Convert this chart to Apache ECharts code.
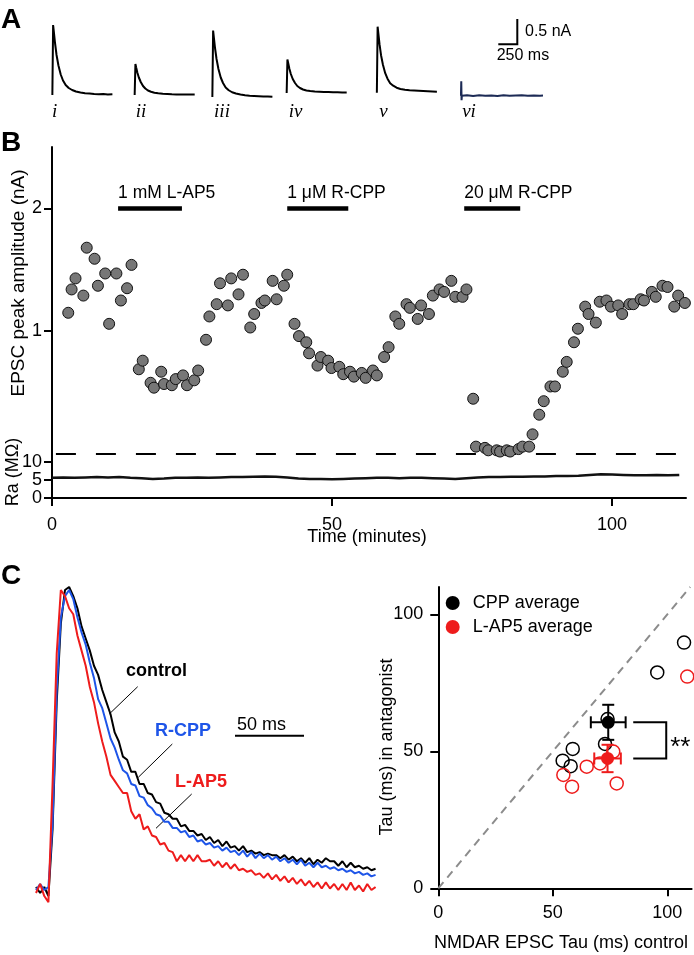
<!DOCTYPE html>
<html><head><meta charset="utf-8">
<script src="https://cdn.jsdelivr.net/npm/echarts@6/dist/echarts.min.js"></script>
<style>html,body{margin:0;padding:0;background:#fff}#c{width:694px;height:955px}</style>
</head><body><div id="c"></div>
<script>
// ---------- Panel A: example EPSC traces (time ms, current nA) ----------
const traceTime = [0,10,20,35,55,80,110,140,175,215,260,310,370,430,490,550,610,670,730,790];
const traceI   = [0,1.40,1.26,1.04,0.80,0.59,0.41,0.29,0.20,0.14,0.10,0.07,0.05,0.035,0.03,0.02,0.015,0.02,0.01,0.015];
const traceII  = [0,0.62,0.55,0.45,0.35,0.26,0.18,0.13,0.09,0.065,0.045,0.035,0.025,0.02,0.015,0.012,0.01,0.012,0.008,0.01];
const traceIII = [0,1.33,1.19,0.98,0.76,0.56,0.39,0.28,0.19,0.135,0.095,0.07,0.05,0.035,0.025,0.02,0.015,0.01,0.01,0.005];
const traceIV  = [0,0.67,0.60,0.49,0.38,0.28,0.20,0.14,0.10,0.07,0.05,0.04,0.03,0.025,0.02,0.02,0.015,0.015,0.01,0.01];
const traceV   = [0,1.32,1.18,0.97,0.75,0.56,0.39,0.28,0.19,0.14,0.10,0.075,0.06,0.05,0.045,0.04,0.035,0.03,0.025,0.02];
const traceVITime = [0,4,8,12,80,160,240,320,400,480,560,640,720,800,880,960,1040,1080];
const traceVI     = [0,0.29,-0.09,0,0.01,-0.005,0.01,0,0.005,-0.005,0.01,0,0.005,0.01,0,0.005,0,0.005];
const traceLabels = ['i','ii','iii','iv','v','vi'];

// ---------- Panel B: time course ----------
const timeB = [2.9,3.5,4.2,5.6,6.2,7.6,8.2,9.5,10.2,11.5,12.3,13.4,14.2,
  15.5,16.2,17.6,18.2,19.5,20.0,21.4,22.1,23.4,24.1,25.4,26.1,
  27.5,28.1,29.4,30.0,31.4,32.0,33.3,34.1,35.4,36.1,37.4,38.0,39.4,40.1,41.4,42.0,
  43.3,44.1,45.4,45.9,47.4,48.0,49.3,49.9,51.3,52.0,53.2,53.9,55.3,56.0,57.3,58.0,59.3,60.1,
  61.3,62.0,63.3,63.9,65.3,65.9,67.3,68.0,69.2,70.0,71.3,72.0,73.3,74.0,
  75.2,75.7,77.3,77.9,79.4,80.0,81.2,81.8,83.3,84.0,85.2,85.8,87.0,87.8,89.0,89.8,
  91.2,91.9,93.2,93.9,95.2,95.8,97.1,97.8,99.0,99.8,101.1,101.8,103.1,103.8,105.1,105.7,107.1,107.8,109.0,109.9,111.1,111.8,113.0];
const ampB = [1.15,1.34,1.43,1.29,1.68,1.59,1.37,1.47,1.06,1.47,1.25,1.35,1.54,
  0.69,0.76,0.58,0.54,0.67,0.57,0.56,0.61,0.64,0.56,0.60,0.68,
  0.93,1.12,1.22,1.39,1.21,1.43,1.30,1.46,1.03,1.14,1.23,1.25,1.41,1.26,1.37,1.46,
  1.06,0.96,0.91,0.82,0.72,0.79,0.76,0.70,0.71,0.65,0.67,0.63,0.66,0.62,0.68,0.64,0.79,0.87,
  1.12,1.06,1.22,1.19,1.10,1.21,1.14,1.29,1.34,1.32,1.41,1.28,1.28,1.34,
  0.45,0.06,0.05,0.03,0.03,0.02,0.03,0.02,0.04,0.06,0.06,0.16,0.32,0.43,0.55,0.55,
  0.67,0.75,0.91,1.02,1.20,1.14,1.07,1.24,1.25,1.20,1.21,1.14,1.22,1.22,1.26,1.25,1.32,1.28,1.37,1.36,1.20,1.29,1.23];
const raTime = [0,2,4,6,8,10,12,14,16,18,20,22,24,26,28,30,32,34,36,38,40,42,44,46,48,50,52,54,56,58,60,62,64,66,68,70,72,74,76,78,80,82,84,86,88,90,92,94,96,98,100,102,104,106,108,110,112];
const raVal  = [5.6,5.7,5.6,5.7,5.8,5.7,5.8,5.6,5.5,5.3,5.4,5.6,5.6,5.7,5.6,5.7,5.8,5.8,5.9,6.0,5.9,5.7,5.4,5.3,5.3,5.2,5.3,5.4,5.5,5.6,5.6,5.5,5.6,5.6,5.5,5.4,5.3,5.5,5.7,5.8,5.8,5.9,5.9,6.0,6.0,6.1,6.1,6.2,6.4,6.6,6.5,6.4,6.3,6.3,6.4,6.3,6.4];
const drugNames = ['1 mM L-AP5','1 μM R-CPP','20 μM R-CPP'];
const drugStart = [11.8, 42.0, 73.6];
const drugEnd   = [23.2, 52.9, 83.6];
const bTicksX = [0,50,100];
const bTicksY = [1,2];
const raTicks = [0,5,10];

// ---------- Panel C left: normalized averaged EPSCs ----------
const tC = [0,3,6,9,12,15,18,21,24,27,30,33,36,39,42,45,48,51,54,57,60,63,66,69,72,75,78,81,84,87,90,93,96,99,102,105,108,111,114,117,120,123,126,129,132,135,138,141,144,147,150,153,156,159,162,165,168,171,174,177,180,183,186,189,192,195,198,201,204,207,210,213,216,219,222,225,228,231,234,237,240,243,246];
const ctrlC = [0.01,-0.01,0.01,-0.02,0.20,0.62,0.88,0.99,1.00,0.97,
  0.93,0.87,0.83,0.79,0.74,0.71,0.66,0.62,0.58,0.52,
  0.49,0.44,0.43,0.39,0.39,0.35,0.35,0.32,0.315,0.29,
  0.285,0.255,0.25,0.235,0.235,0.21,0.215,0.195,0.195,0.18,
  0.185,0.165,0.175,0.155,0.165,0.145,0.16,0.14,0.145,0.13,
  0.145,0.125,0.13,0.12,0.125,0.115,0.12,0.115,0.115,0.105,
  0.115,0.10,0.11,0.095,0.105,0.09,0.105,0.085,0.10,0.09,
  0.105,0.095,0.095,0.08,0.095,0.075,0.09,0.075,0.08,0.07,
  0.075,0.065,0.07];
const cppC = [0.00,0.02,0.00,0.01,0.22,0.66,0.90,0.97,0.99,0.96,
  0.90,0.85,0.81,0.75,0.70,0.63,0.60,0.55,0.50,0.47,
  0.43,0.395,0.385,0.35,0.345,0.31,0.305,0.28,0.27,0.25,
  0.245,0.225,0.225,0.205,0.205,0.19,0.195,0.175,0.18,0.16,
  0.165,0.15,0.155,0.14,0.145,0.13,0.14,0.125,0.13,0.115,
  0.13,0.11,0.125,0.105,0.12,0.105,0.115,0.10,0.11,0.095,
  0.105,0.09,0.10,0.085,0.10,0.08,0.09,0.075,0.09,0.075,
  0.08,0.07,0.075,0.065,0.07,0.06,0.065,0.055,0.06,0.05,
  0.055,0.045,0.05];
const lap5C = [-0.01,0.02,-0.02,-0.04,0.35,0.78,0.99,0.97,0.93,0.91,
  0.84,0.79,0.74,0.67,0.62,0.55,0.49,0.44,0.38,0.36,
  0.34,0.32,0.32,0.26,0.235,0.25,0.20,0.21,0.18,0.175,
  0.15,0.155,0.13,0.125,0.095,0.115,0.095,0.115,0.095,0.115,
  0.095,0.095,0.10,0.08,0.095,0.075,0.09,0.07,0.085,0.065,
  0.07,0.06,0.065,0.05,0.055,0.04,0.055,0.035,0.05,0.03,
  0.045,0.025,0.04,0.02,0.035,0.015,0.03,0.01,0.025,0.005,
  0.025,0.005,0.02,0.0,0.02,0.0,0.025,0.0,0.015,-0.005,
  0.02,0.0,0.01];

// ---------- Panel C right: decay tau ----------
const cppCtrl = [107.3,95.6,73.9,72.8,58.7,54.3,57.8];
const cppAnt  = [89.7,78.8,61.8,52.7,50.9,46.6,44.6];
const lapCtrl = [108.7,76.4,70.6,64.8,58.4,54.6,77.9];
const lapAnt  = [77.3,49.9,45.6,44.4,37.1,41.4,38.3];
const avgNames = ['CPP average','L-AP5 average'];
const avgCtrl = [74.2,73.9];
const avgAnt  = [60.6,47.4];
const semCtrl = [7.6,5.8];
const semAnt  = [6.4,5.0];
const tauTicks = [0,50,100];

// ================= drawing =================
const FONT = "'Liberation Sans', Arial, Helvetica, sans-serif";
const SERIF = "'Liberation Serif', 'Times New Roman', serif";
const BLACK = '#000', RED = '#ee1c1c', BLUE = '#1e55e8', NAVY = '#1c2a55';
const chart = echarts.init(document.getElementById('c'), null, {renderer:'canvas', width:694, height:955});
const zip = (a,b) => a.map((v,i)=>[v,b[i]]);

const aLayout = [
  {left:51.6, top:20, width:60.8, xmax:790},
  {left:133.9, top:20, width:60.8, xmax:790},
  {left:211.6, top:22, width:60.8, xmax:790},
  {left:285.9, top:18, width:60.8, xmax:790},
  {left:376.1, top:17.7, width:60.8, xmax:790},
  {left:460.2, top:20.7, width:82.8, xmax:1080}
];
const grids = aLayout.map(g=>({left:g.left, top:g.top, width:g.width, height:80}));
grids.push({left:52, top:147, width:634, height:307});   // 6: B EPSC
grids.push({left:52, top:454, width:634, height:44});    // 7: B Ra
grids.push({left:36, top:571.85, width:339, height:363.6}); // 8: C left
grids.push({left:438.3, top:587, width:253.3, height:301.3}); // 9: C right

const axisLineS = {show:true, lineStyle:{color:BLACK, width:2}};
const tickS = (vals)=>({show:true, length:8, customValues:vals, lineStyle:{color:BLACK, width:2}});
const labS = (vals, margin)=>({show:true, customValues:vals, margin:margin, color:BLACK, fontSize:18, fontFamily:FONT});

const xAxes = [], yAxes = [];
aLayout.forEach((g,i)=>{
  xAxes.push({gridIndex:i, type:'value', min:-10, max:g.xmax, show:false});
  yAxes.push({gridIndex:i, type:'value', min:-0.1, max:1.5, show:false});
});
xAxes.push({gridIndex:6, type:'value', min:0, max:113.2, show:false});
yAxes.push({gridIndex:6, type:'value', min:0, max:2.5, axisLine:axisLineS, axisTick:tickS(bTicksY), axisLabel:labS(bTicksY,10), splitLine:{show:false}});
xAxes.push({gridIndex:7, type:'value', min:0, max:113.2, axisLine:axisLineS, axisTick:tickS(bTicksX), axisLabel:labS(bTicksX,18), splitLine:{show:false}});
yAxes.push({gridIndex:7, type:'value', min:0, max:12.22, axisLine:axisLineS, axisTick:tickS(raTicks), axisLabel:labS(raTicks,10), splitLine:{show:false}});
xAxes.push({gridIndex:8, type:'value', min:0, max:245.6, show:false});
yAxes.push({gridIndex:8, type:'value', min:-0.15, max:1.05, show:false});
xAxes.push({gridIndex:9, type:'value', min:0, max:110.6, axisLine:axisLineS, axisTick:tickS(tauTicks), axisLabel:labS(tauTicks,16), splitLine:{show:false}});
yAxes.push({gridIndex:9, type:'value', min:0, max:110, axisLine:axisLineS, axisTick:tickS(tauTicks), axisLabel:labS(tauTicks,15), splitLine:{show:false}});

const series = [];
const aTraces = [traceI, traceII, traceIII, traceIV, traceV];
aTraces.forEach((tr,i)=>{
  series.push({type:'line', xAxisIndex:i, yAxisIndex:i, data:zip(traceTime,tr), showSymbol:false, symbol:'none',
    lineStyle:{color:BLACK, width:2}, silent:true});
});
series.push({type:'line', xAxisIndex:5, yAxisIndex:5, data:zip(traceVITime,traceVI), showSymbol:false, symbol:'none',
  lineStyle:{color:NAVY, width:2}, silent:true});

// B: zero dashed line
series.push({type:'line', xAxisIndex:6, yAxisIndex:6, data:[[0.7,0],[112,0]], showSymbol:false, symbol:'none',
  lineStyle:{color:BLACK, width:2, type:[20,20]}, z:1});
// B: drug bars
const drugBarLevel = 2;
series.push({type:'custom', xAxisIndex:6, yAxisIndex:6, coordinateSystem:'cartesian2d',
  data: drugStart.map((s,i)=>[s, drugEnd[i]]), encode:{x:[0,1]},
  renderItem:(params, api)=>{
    const p0 = api.coord([api.value(0), drugBarLevel]);
    const p1 = api.coord([api.value(1), drugBarLevel]);
    return {type:'group', children:[
      {type:'line', shape:{x1:p0[0], y1:p0[1], x2:p1[0], y2:p1[1]}, style:{stroke:BLACK, lineWidth:4.5}},
      {type:'text', x:p0[0], y:p0[1]-15, style:{text:drugNames[params.dataIndex], fill:BLACK, fontSize:17.5, fontFamily:FONT, align:'left', verticalAlign:'middle'}}
    ]};
  }});
// B: EPSC amplitudes
series.push({type:'scatter', xAxisIndex:6, yAxisIndex:6, data:zip(timeB,ampB), symbolSize:11,
  itemStyle:{color:'#777777', borderColor:'#111', borderWidth:1, opacity:1}, z:3, clip:false});
// B: Ra
series.push({type:'line', xAxisIndex:7, yAxisIndex:7, data:zip(raTime,raVal), showSymbol:false, symbol:'none',
  lineStyle:{color:'#111', width:2.5}});

// C left traces
[[ctrlC,BLACK],[cppC,BLUE],[lap5C,RED]].forEach(([d,c])=>{
  series.push({type:'line', xAxisIndex:8, yAxisIndex:8, data:zip(tC,d), showSymbol:false, symbol:'none',
    lineStyle:{color:c, width:2}, silent:true});
});

// C right
series.push({type:'line', xAxisIndex:9, yAxisIndex:9, data:[[0,0],[110,110]], showSymbol:false, symbol:'none',
  lineStyle:{color:'#8c8c8c', width:2, type:[8,6]}, z:1});
series.push({type:'scatter', xAxisIndex:9, yAxisIndex:9, data:zip(cppCtrl,cppAnt), symbolSize:13,
  itemStyle:{color:'rgba(255,255,255,0)', borderColor:BLACK, borderWidth:1.5, opacity:1}, z:2});
series.push({type:'scatter', xAxisIndex:9, yAxisIndex:9, data:zip(lapCtrl,lapAnt), symbolSize:13,
  itemStyle:{color:'rgba(255,255,255,0)', borderColor:RED, borderWidth:1.5, opacity:1}, z:2});
const avgColors = [BLACK, RED];
series.push({type:'custom', xAxisIndex:9, yAxisIndex:9, coordinateSystem:'cartesian2d', z:3,
  data: avgCtrl.map((x,i)=>[x, avgAnt[i], semCtrl[i], semAnt[i]]), encode:{x:0, y:1},
  renderItem:(params, api)=>{
    const x=api.value(0), y=api.value(1), sx=api.value(2), sy=api.value(3);
    const l=api.coord([x-sx,y]), r=api.coord([x+sx,y]), t=api.coord([x,y+sy]), b=api.coord([x,y-sy]);
    const st={stroke:avgColors[params.dataIndex], lineWidth:2};
    const cap=6;
    return {type:'group', children:[
      {type:'line', shape:{x1:l[0],y1:l[1],x2:r[0],y2:r[1]}, style:st},
      {type:'line', shape:{x1:t[0],y1:t[1],x2:b[0],y2:b[1]}, style:st},
      {type:'line', shape:{x1:l[0],y1:l[1]-cap,x2:l[0],y2:l[1]+cap}, style:st},
      {type:'line', shape:{x1:r[0],y1:r[1]-cap,x2:r[0],y2:r[1]+cap}, style:st},
      {type:'line', shape:{x1:t[0]-cap,y1:t[1],x2:t[0]+cap,y2:t[1]}, style:st},
      {type:'line', shape:{x1:b[0]-cap,y1:b[1],x2:b[0]+cap,y2:b[1]}, style:st}
    ]};
  }});
avgNames.forEach((n,i)=>{
  series.push({name:n, type:'scatter', xAxisIndex:9, yAxisIndex:9, data:[[avgCtrl[i], avgAnt[i]]], symbolSize:13,
    itemStyle:{color:avgColors[i], opacity:1}, z:4});
});
// significance bracket
series.push({type:'custom', xAxisIndex:9, yAxisIndex:9, coordinateSystem:'cartesian2d', z:3,
  data:[[avgCtrl[0], avgAnt[0], avgCtrl[1], avgAnt[1]]], encode:{x:0, y:1},
  renderItem:(params, api)=>{
    const a=api.coord([api.value(0), api.value(1)]), b=api.coord([api.value(2), api.value(3)]);
    const x0=a[0]+25, x1=a[0]+58;
    const st={stroke:BLACK, lineWidth:2};
    return {type:'group', children:[
      {type:'polyline', shape:{points:[[x0,a[1]],[x1,a[1]],[x1,b[1]],[x0,b[1]]]}, style:Object.assign({fill:null},st)},
      {type:'text', x:x1+4, y:(a[1]+b[1])/2+7, style:{text:'**', fill:BLACK, fontSize:26, fontFamily:FONT, align:'left', verticalAlign:'middle'}}
    ]};
  }});

const txt = (t, x, y, o={}) => ({type:'text', x, y, rotation:o.rot||0, silent:true,
  style:{text:t, fill:o.color||BLACK, fontSize:o.size||18, fontFamily:o.family||FONT, fontWeight:o.weight||'normal',
    fontStyle:o.style||'normal', align:o.align||'left', verticalAlign:'middle'}});
const ln = (x1,y1,x2,y2,w=1) => ({type:'line', silent:true, shape:{x1,y1,x2,y2}, style:{stroke:BLACK, lineWidth:w}});

const labelX = [54.6,141,222,295.5,383.5,469];
const graphic = [
  txt('A', 1, 20, {size:28, weight:'bold'}),
  txt('B', 1, 143, {size:28, weight:'bold'}),
  txt('C', 1, 576, {size:28, weight:'bold'}),
  {type:'polyline', silent:true, shape:{points:[[517.3,19],[517.3,44.3],[498.3,44.3]]}, style:{stroke:BLACK, lineWidth:2, fill:null}},
  txt('0.5 nA', 525, 32, {size:16}),
  txt('250 ms', 496.7, 55.7, {size:16}),
  txt('EPSC peak amplitude (nA)', 19, 283, {rot:Math.PI/2, align:'center', size:19}),
  txt('Ra (MΩ)', 13, 472, {rot:Math.PI/2, align:'center', size:18}),
  txt('Time (minutes)', 367, 537, {align:'center', size:18}),
  txt('control', 126, 671.5, {weight:'bold', size:18}),
  ln(137.7,686.7,109.3,714),
  txt('R-CPP', 155, 731, {weight:'bold', size:18, color:BLUE}),
  ln(172.3,744,138.3,777.3),
  txt('L-AP5', 175, 782, {weight:'bold', size:18, color:RED}),
  ln(191.7,794,156,828.3),
  ln(235,735.7,304,735.7,2),
  txt('50 ms', 237, 725, {size:18}),
  txt('Tau (ms) in antagonist', 387, 747, {rot:Math.PI/2, align:'center', size:18}),
  txt('NMDAR EPSC Tau (ms) control', 561, 943, {align:'center', size:18})
];
traceLabels.forEach((t,i)=>graphic.push(txt(t, labelX[i], 112, {family:SERIF, style:'italic', size:19, align:'center'})));

chart.setOption({
  animation:false,
  backgroundColor:'#fff',
  grid:grids, xAxis:xAxes, yAxis:yAxes, series,
  legend:{data:avgNames, orient:'vertical', left:445.7, top:594, padding:0, itemWidth:30, itemHeight:14, itemGap:6,
    icon:'circle', itemStyle:{opacity:1}, textStyle:{fontSize:18, fontFamily:FONT, color:BLACK}, selectedMode:false},
  graphic
});
</script></body></html>
